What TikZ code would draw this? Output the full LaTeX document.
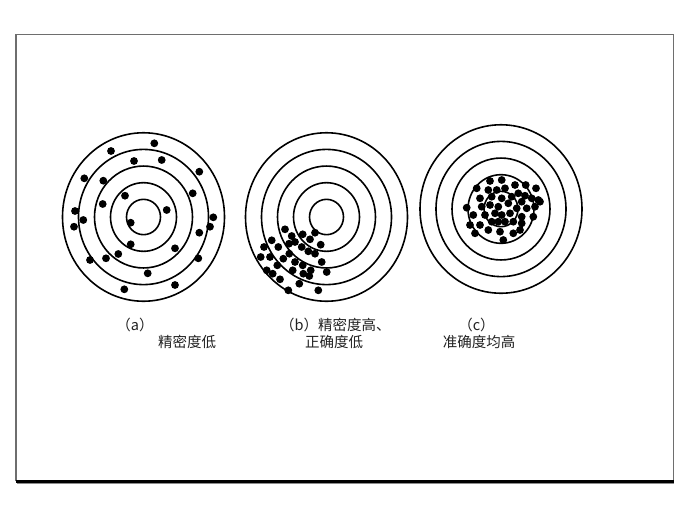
\documentclass[tikz,border=0pt]{standalone}
\usepackage{fontspec}
\newfontfamily\cjk{Noto Sans CJK SC}
\definecolor{framegray}{HTML}{6E6E6E}
\definecolor{textgray}{HTML}{222222}
\tikzset{
  ring/.style={draw=black, line width=1.6pt},
  dot/.style={fill=black},
  lbl/.style={inner sep=0pt, font=\cjk\fontsize{14.5}{14.5}\selectfont, text=textgray},
}
\begin{document}
\begin{tikzpicture}[x=1pt,y=-1pt]
\useasboundingbox (0,0) rectangle (690,517);
\fill[white] (0,0) rectangle (690,517);
% frame
\draw[framegray, line width=1.5pt] (16,481) -- (16,34.5) -- (673.5,34.5) -- (673.5,481);
\draw[black!45, line width=1pt] (17,483.5) -- (674,483.5);
\draw[black, line width=2.4pt] (15.5,481.5) -- (674,481.5);
% targets
\foreach \cx/\cy in {143.5/217, 326.5/217, 501/209} {
  \foreach \r in {17,33,49,65,81} {
    \draw[ring] (\cx,\cy) ellipse [x radius=\r, y radius={\r*1.04}];
  }
}
% (a) dots
\foreach \x/\y in {154.3/143.3, 111/151, 134/161, 161.7/160, 199.3/171.7, 84.3/178.3,
  103.3/180.7, 192.7/193.3, 125/195.7, 102.7/204, 75/211, 166.7/210, 83.3/220,
  74/226.7, 130.7/222.7, 213.3/217.3, 210/226.7, 199.3/232.7, 130.7/244.3, 175/248.3,
  118.3/254, 106/258.3, 90/260, 198.3/258.3, 147.7/273.3, 175/285, 124.3/289.3} {
  \fill[dot] (\x,\y) circle (3.9);
}
% (b) dots
\foreach \x/\y in {285/229.3, 291.7/236, 302.7/234.3, 310/239.3, 315/232.7, 271.7/240.3,
  264/247, 278.3/247, 289/243.7, 295/242, 301.7/247, 308.3/251.3, 315/253.7, 320.7/244.7,
  260.7/257, 270/257, 283.3/258.7, 289.3/253.7, 295/262, 302.7/265.3, 310.7/270.3,
  321.7/262, 277.3/265.3, 266.7/270.3, 272.7/273.7, 292.7/270.3, 303.3/273.7, 326.7/272,
  280/279.3, 299.3/283.7, 288.3/290.3, 318.3/290.3, 309.3/276} {
  \fill[dot] (\x,\y) circle (3.9);
}
% (c) dots
\foreach \x/\y in {490/181, 501.7/180, 515/185, 525.7/185, 536/188.3, 476.7/188.3,
  488.3/190, 496.7/190, 505/188.3, 518.3/193.3, 525/195.7, 538.3/200, 480/198.3,
  491.7/196.7, 501.7/198.3, 511.7/196.7, 521.7/201.7, 531.7/198.3, 466.7/207.7,
  481.7/206.7, 490/205, 498.3/206.7, 508.3/203.3, 516.7/208.3, 526.7/208.3, 535/206.7,
  473.3/215, 485/215, 495/213.3, 501.7/215, 510/213.3, 521.7/216.7, 533.3/216.7,
  470/225, 480/225, 491.7/221.7, 498.3/221.7, 505/221.7, 513.3/221.7, 521.7/223.3,
  475/233.3, 488.3/230, 500/231.7, 513.3/233.3, 520/230, 503.3/240, 540/201.7} {
  \fill[dot] (\x,\y) circle (3.9);
}
% labels
\node[lbl] (la1) at (135,325) {（a）};
\node[lbl] (la2) at (187,342) {精密度低};
\node[lbl, anchor=west] (lb1) at (280,325) {（b）精密度高、};
\node[lbl] (lb2) at (334,342) {正确度低};
\node[lbl] (lc1) at (476.5,325) {（c）};
\node[lbl] (lc2) at (479,342) {准确度均高};
\end{tikzpicture}
\end{document}
